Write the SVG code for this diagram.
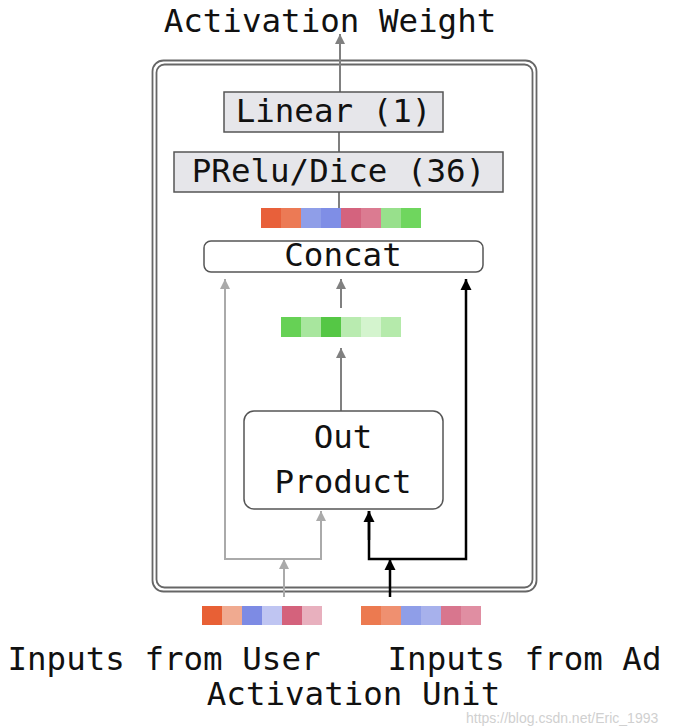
<svg xmlns="http://www.w3.org/2000/svg" width="690" height="728" viewBox="0 0 690 728">
<defs>
<marker id="aLight" viewBox="0 0 10 10" refX="10" refY="5" markerWidth="10" markerHeight="12" markerUnits="userSpaceOnUse" orient="auto"><path d="M0,0 L10,5 L0,10 z" fill="#aaaaaa"/></marker>
<marker id="aMid" viewBox="0 0 10 10" refX="10" refY="5" markerWidth="10" markerHeight="12" markerUnits="userSpaceOnUse" orient="auto"><path d="M0,0 L10,5 L0,10 z" fill="#808080"/></marker>
<marker id="aDark" viewBox="0 0 10 10" refX="10" refY="5" markerWidth="11" markerHeight="12" markerUnits="userSpaceOnUse" orient="auto"><path d="M0,0 L10,5 L0,10 z" fill="#000000"/></marker>
</defs>
<style>
.t{font-family:"DejaVu Sans Mono","Liberation Mono",monospace;font-size:32.5px;fill:#111;text-anchor:middle}
.frame{fill:none;stroke:#666;stroke-width:1.8}
.layer{fill:#e6e6ea;stroke:#555;stroke-width:1.5}
.rbox{fill:#fff;stroke:#555;stroke-width:1.5}
.light{fill:none;stroke:#aaaaaa;stroke-width:2}
.mid{fill:none;stroke:#808080;stroke-width:2}
.dark{fill:none;stroke:#000;stroke-width:2.5}
.wm{font-family:"Liberation Sans",Arial,sans-serif;font-size:14px;fill:#d0d0d0}
</style>
<rect width="690" height="728" fill="#fff"/>
<g id="frame">
<rect class="frame" x="152.5" y="60.5" width="384" height="531" rx="11"/>
<rect class="frame" x="156.5" y="64.5" width="376" height="523" rx="8"/>
</g>
<g id="connectors">
<line class="mid" x1="340" y1="92" x2="340" y2="34" marker-end="url(#aMid)"/>
<line x1="339" y1="132" x2="339" y2="152" stroke="#555" stroke-width="1.5"/>
<line x1="339" y1="192" x2="339" y2="208" stroke="#555" stroke-width="1.5"/>
<line class="mid" x1="341" y1="308" x2="341" y2="279" marker-end="url(#aMid)"/>
<line class="mid" x1="341" y1="411" x2="341" y2="348" marker-end="url(#aMid)"/>
<line class="light" x1="284" y1="597" x2="284" y2="559" marker-end="url(#aLight)"/>
<path class="light" d="M225,279 L225,559 L321,559 L321,511" marker-end="url(#aLight)"/>
<line class="light" x1="225" y1="300" x2="225" y2="279" marker-end="url(#aLight)"/>
<line class="dark" x1="390" y1="597" x2="390" y2="559" marker-end="url(#aDark)"/>
<path class="dark" d="M369,511 L369,559 L466,559 L466,279" marker-end="url(#aDark)"/>
<line class="dark" x1="369" y1="540" x2="369" y2="511" marker-end="url(#aDark)"/>
</g>
<g id="output"><text class="t" x="330" y="32">Activation Weight</text></g>
<g id="linear">
<rect class="layer" x="224" y="92" width="219" height="40"/>
<text class="t" x="333.5" y="122">Linear (1)</text>
</g>
<g id="prelu">
<rect class="layer" x="174" y="152" width="329" height="40"/>
<text class="t" x="338.5" y="182">PRelu/Dice (36)</text>
</g>
<g id="concat-vector">
<rect x="261" y="208" width="20" height="20" fill="#e8603a"/>
<rect x="281" y="208" width="20" height="20" fill="#ec7a55"/>
<rect x="301" y="208" width="20" height="20" fill="#8f9ee8"/>
<rect x="321" y="208" width="20" height="20" fill="#7f8ee6"/>
<rect x="341" y="208" width="20" height="20" fill="#d4637e"/>
<rect x="361" y="208" width="20" height="20" fill="#db7b91"/>
<rect x="381" y="208" width="20" height="20" fill="#98e08c"/>
<rect x="401" y="208" width="20" height="20" fill="#6fd65e"/>
</g>
<g id="concat">
<rect class="rbox" x="204" y="241" width="279" height="31" rx="7"/>
<text class="t" x="343" y="266">Concat</text>
</g>
<g id="product-vector">
<rect x="281" y="317" width="20" height="20" fill="#66d155"/>
<rect x="301" y="317" width="20" height="20" fill="#a8e69e"/>
<rect x="321" y="317" width="20" height="20" fill="#55c745"/>
<rect x="341" y="317" width="20" height="20" fill="#b9ebb0"/>
<rect x="361" y="317" width="20" height="20" fill="#d4f4ce"/>
<rect x="381" y="317" width="20" height="20" fill="#b5eaab"/>
</g>
<g id="outproduct">
<rect class="rbox" x="244" y="411" width="199" height="98" rx="10"/>
<text class="t" x="343" y="448">Out</text>
<text class="t" x="343" y="493">Product</text>
</g>
<g id="user-input">
<rect x="202" y="606" width="20" height="19" fill="#e86035"/>
<rect x="222" y="606" width="20" height="19" fill="#f0aa90"/>
<rect x="242" y="606" width="20" height="19" fill="#7d8be4"/>
<rect x="262" y="606" width="20" height="19" fill="#bfc5f2"/>
<rect x="282" y="606" width="20" height="19" fill="#d4627c"/>
<rect x="302" y="606" width="20" height="19" fill="#e8b0be"/>
<text class="t" x="164" y="670">Inputs from User</text>
</g>
<g id="ad-input">
<rect x="361" y="606" width="20" height="19" fill="#ec7a50"/>
<rect x="381" y="606" width="20" height="19" fill="#ef9070"/>
<rect x="401" y="606" width="20" height="19" fill="#8f9ee8"/>
<rect x="421" y="606" width="20" height="19" fill="#a7b1ec"/>
<rect x="441" y="606" width="20" height="19" fill="#d8768e"/>
<rect x="461" y="606" width="20" height="19" fill="#e08ea2"/>
<text class="t" x="524.5" y="670">Inputs from Ad</text>
</g>
<g id="caption"><text class="t" x="353.5" y="705">Activation Unit</text></g>
<text class="wm" x="466" y="723">https://blog.csdn.net/Eric_1993</text>
</svg>
